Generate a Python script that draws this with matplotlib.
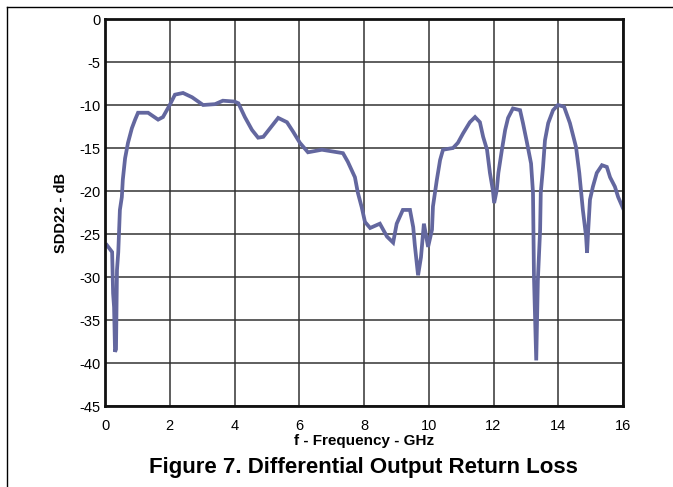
import numpy as np
import matplotlib
matplotlib.use('Agg')
import matplotlib.pyplot as plt
from matplotlib.lines import Line2D

plt.rcParams['font.family'] = ['Liberation Sans', 'DejaVu Sans']

# SDD22 vs frequency
freq_ghz = [0.06, 0.22, 0.25, 0.28, 0.31, 0.34, 0.37, 0.41, 0.46, 0.52, 0.55, 0.62, 0.71,
            0.83, 0.93, 1.02, 1.33, 1.64, 1.79, 2.0, 2.16, 2.41, 2.69, 3.03, 3.4, 3.64,
            4.0, 4.12, 4.32, 4.54, 4.73, 4.89, 5.1, 5.35, 5.62, 5.81, 6.02, 6.27, 6.7,
            7.35, 7.5, 7.72, 7.81, 7.93, 8.03, 8.19, 8.49, 8.71, 8.9, 9.01, 9.2, 9.42,
            9.52, 9.57, 9.67, 9.76, 9.85, 9.98, 10.1, 10.13, 10.25, 10.35, 10.44, 10.75,
            10.9, 11.06, 11.27, 11.43, 11.58, 11.68, 11.8, 11.89, 11.98, 12.02, 12.1,
            12.15, 12.26, 12.36, 12.45, 12.6, 12.82, 12.91, 13.03, 13.16, 13.22, 13.25,
            13.32, 13.37, 13.44, 13.46, 13.53, 13.59, 13.69, 13.84, 13.99, 14.18, 14.36,
            14.55, 14.65, 14.76, 14.86, 14.89, 14.92, 14.98, 15.07, 15.19, 15.35, 15.5,
            15.6, 15.75, 15.85, 16.0]
sdd22_db = [-26.3, -27.1, -31.9, -33.5, -38.7, -38.4, -29.2, -27.1, -22.2, -20.7, -18.7,
            -16.2, -14.4, -12.7, -11.7, -10.9, -10.9, -11.7, -11.4, -10.0, -8.8, -8.6,
            -9.1, -10.0, -9.9, -9.5, -9.6, -9.8, -11.4, -12.9, -13.8, -13.7, -12.7,
            -11.5, -12.0, -13.1, -14.4, -15.5, -15.2, -15.6, -16.6, -18.4, -20.2, -21.9,
            -23.6, -24.3, -23.8, -25.3, -26.0, -23.8, -22.2, -22.2, -24.2, -26.3, -29.8,
            -27.7, -23.8, -26.5, -24.5, -21.8, -18.7, -16.4, -15.2, -15.0, -14.4, -13.3,
            -12.0, -11.4, -12.0, -13.7, -15.2, -17.9, -19.9, -21.4, -19.9, -17.9, -15.2,
            -12.9, -11.5, -10.4, -10.6, -12.1, -14.3, -16.8, -20.2, -30.0, -39.7, -30.4,
            -24.5, -20.2, -17.2, -14.1, -12.1, -10.6, -10.0, -10.2, -12.1, -14.9, -17.9,
            -22.2, -25.3, -27.2, -24.9, -21.0, -19.5, -17.9, -17.0, -17.2, -18.4, -19.5,
            -20.7, -22.0]

x_ticks = [0, 2, 4, 6, 8, 10, 12, 14, 16]
y_ticks = [0, -5, -10, -15, -20, -25, -30, -35, -40, -45]

fig = plt.figure(figsize=(6.73, 4.87), dpi=100)
ax = fig.add_axes([105 / 673, 1 - 406 / 487, 518 / 673, 387 / 487])

ax.plot(freq_ghz, sdd22_db, color='#63679f', lw=2.7, solid_joinstyle='miter')

ax.set_xlim(0, 16)
ax.set_ylim(-45, 0)
ax.set_xticks(x_ticks)
ax.set_yticks(y_ticks)
ax.set_xticklabels([str(t) for t in x_ticks])
ax.set_yticklabels([str(t) for t in y_ticks])
ax.tick_params(length=0, labelsize=10.5)
ax.tick_params(axis='x', pad=9)
ax.tick_params(axis='y', pad=3)
ax.grid(True, color='#333333', lw=1.1)
ax.set_axisbelow(True)
for s in ax.spines.values():
    s.set_linewidth(2.0)
    s.set_color('#111111')

ax.set_xlabel('f - Frequency - GHz', fontsize=11, fontweight='bold', labelpad=1)
ax.set_ylabel('SDD22 - dB', fontsize=10.5, fontweight='bold', labelpad=8)

fig.text(363 / 673, 1 - 468 / 487, 'Figure 7. Differential Output Return Loss',
         fontsize=16, fontweight='bold', ha='center', va='center')

# page frame lines
fig.add_artist(Line2D([7 / 673, 1.0], [1 - 7 / 487, 1 - 7 / 487], color='black', lw=1.0,
                      transform=fig.transFigure))
fig.add_artist(Line2D([7 / 673, 7 / 673], [1 - 7 / 487, 0], color='black', lw=1.0,
                      transform=fig.transFigure))

fig.savefig('out.png', dpi=100)
